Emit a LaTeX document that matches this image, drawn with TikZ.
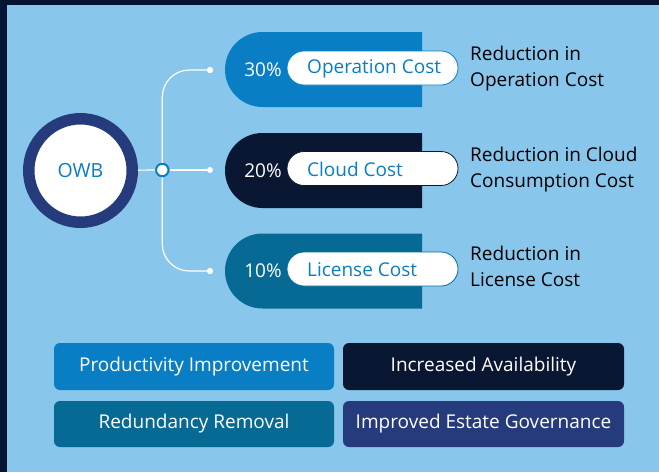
\documentclass[tikz,border=0pt]{standalone}
\usepackage{fontspec}
\setmainfont{Open Sans}
\usetikzlibrary{shapes.misc}
\definecolor{bg}{HTML}{88C6EC}
\definecolor{framec}{HTML}{051433}
\definecolor{cblue}{HTML}{0A7EC4}
\definecolor{cnavy}{HTML}{0A1733}
\definecolor{cteal}{HTML}{066A95}
\definecolor{cindigo}{HTML}{263B7C}
\tikzset{
  pill/.style={rounded rectangle, rounded rectangle right arc=none, minimum width=197pt, minimum height=75pt, inner sep=0pt, fill=#1},
  tag/.style={rounded rectangle, minimum width=171pt, minimum height=34pt, inner sep=0pt, fill=white, draw=#1, line width=0.8pt},
  tagtext/.style={anchor=west, text=cblue, inner sep=0pt, font=\fontsize{19}{24}\selectfont},
  pct/.style={text=white, inner sep=0pt, font=\fontsize{19}{24}\selectfont},
  desc/.style={anchor=base west, align=left, inner sep=0pt, text=black, font=\fontsize{19}{26}\selectfont},
  dot/.style={circle, fill=white, minimum size=6pt, inner sep=0pt},
  conn/.style={white, line width=1.2pt},
  benefit/.style={rectangle, rounded corners=6pt, minimum height=47pt, inner sep=0pt, fill=#1, text=white, font=\fontsize{19}{24}\selectfont},
}
\begin{document}
\begin{tikzpicture}[x=1pt,y=-1pt]
\fill[framec] (0,0) rectangle (659,472);
\fill[bg] (7,5) rectangle (659,472);
\useasboundingbox (0,0) rectangle (659,472);

% central circle
\node[circle, fill=white, draw=cindigo, line width=11.5pt, minimum size=103.5pt, inner sep=0pt, text=cblue, font=\fontsize{19.5}{24}\selectfont] (owb) at (80.5,170.5) {OWB};
\node[circle, fill=white, draw=cblue, line width=2pt, minimum size=12.5pt, inner sep=0pt] (junc) at (162.3,170) {};

% dots
\node[dot] (d1) at (210,70) {};
\node[dot] (d2) at (210,170) {};
\node[dot] (d3) at (210,271) {};

\draw[conn] (owb) -- (junc);
\draw[conn] (junc) -- (d2);
\draw[conn, rounded corners=27pt] (junc.north) |- (d1.center);
\draw[conn, rounded corners=27pt] (junc.south) |- (d3.center);
\node[dot] at (d1) {};
\node[dot] at (d3) {};

% pills
\node[pill=cblue] (p1) at (323.5,69.5) {};
\node[pill=cnavy] (p2) at (323.5,170.5) {};
\node[pill=cteal] (p3) at (323.5,271) {};

\node[pct] (pc1) at (263,69.5) {30\%};
\node[pct] (pc2) at (263,170.5) {20\%};
\node[pct] (pc3) at (263,270.5) {10\%};

\node[tag=cblue] (t1) at (372.5,68) {};
\node[tag=cnavy] (t2) at (372.5,168.5) {};
\node[tag=cteal] (t3) at (372.5,269) {};
\node[tagtext] (tt1) at (307,68.5) {Operation Cost};
\node[tagtext] (tt2) at (307,169) {Cloud Cost};
\node[tagtext] (tt3) at (307,269.5) {License Cost};

% descriptions
\node[desc] (r1) at (470,86) {Reduction in\\Operation Cost};
\node[desc] (r2) at (470,187) {Reduction in Cloud\\Consumption Cost};
\node[desc] (r3) at (470,286.5) {Reduction in\\License Cost};

% benefits
\node[benefit=cblue, minimum width=280pt] (b1) at (194,366.5) {Productivity Improvement};
\node[benefit=cnavy, minimum width=281pt] (b2) at (483.5,366.5) {Increased Availability};
\node[benefit=cteal, minimum width=280pt, minimum height=46pt] (b3) at (194,424) {Redundancy Removal};
\node[benefit=cindigo, minimum width=281pt, minimum height=46pt] (b4) at (483.5,424) {Improved Estate Governance};
\end{tikzpicture}
\end{document}
